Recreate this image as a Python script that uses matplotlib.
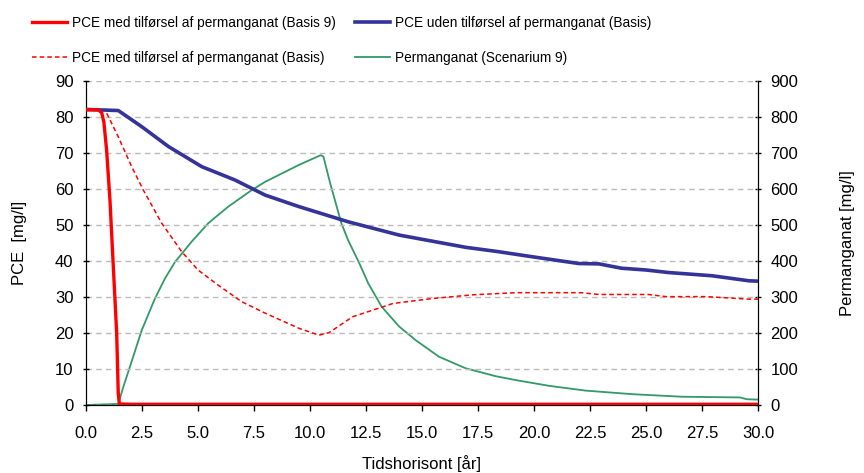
import matplotlib
matplotlib.use("Agg")
import matplotlib.pyplot as plt

plt.rcParams['font.family'] = ['Liberation Sans', 'DejaVu Sans']

# PCE med tilførsel af permanganat (Basis 9)
red9_x = [0.0, 0.55, 0.7, 0.8, 0.92, 1.07, 1.22, 1.37, 1.44, 1.49, 2.0, 30.0]
red9_y = [82, 82, 81.2, 78.5, 70.8, 56.9, 38.4, 19.9, 3.2, 0.3, 0.2, 0.2]

# PCE med tilførsel af permanganat (Basis)
redb_x = [0.0, 0.85, 1.44, 2.04, 2.56, 3.38, 4.27, 5.0, 5.9, 6.95, 8.0, 9.51, 10.4,
          10.85, 11.9, 13.7, 15.5, 17.25, 19.2, 22.1, 22.9, 25.1, 25.9, 27.7, 29.6, 30.0]
redb_y = [82, 82, 74.5, 66.2, 59.7, 50.5, 42.6, 37.5, 33.3, 28.7, 25.5, 21.3, 19.4,
          20.1, 24.5, 28.2, 29.6, 30.6, 31.2, 31.2, 30.7, 30.7, 30.1, 30.1, 29.4, 29.4]

# PCE uden tilførsel af permanganat (Basis)
blue_x = [0.0, 1.44, 2.49, 3.68, 5.17, 6.65, 8.0, 9.51, 11.7, 13.98, 16.95, 18.4,
          19.9, 22.0, 22.9, 23.9, 25.0, 26.0, 27.95, 29.6, 30.0]
blue_y = [82.1, 81.8, 77.3, 71.8, 66.2, 62.5, 58.3, 55.1, 50.9, 47.2, 43.8, 42.6,
          41.2, 39.3, 39.2, 38.0, 37.5, 36.8, 35.9, 34.5, 34.4]

# Permanganat (Scenarium 9)
green_x = [0.0, 1.44, 1.67, 1.96, 2.49, 3.08, 3.53, 3.97, 4.72, 5.46, 6.35, 7.4, 8.0,
           9.51, 10.48, 10.6, 10.9, 11.4, 11.7, 12.2, 12.6, 13.2, 13.98, 14.72, 15.76,
           16.95, 18.29, 19.2, 20.7, 22.3, 24.4, 26.6, 29.2, 29.5, 30.0]
green_y = [0, 3, 51, 106, 208, 296, 352, 397, 454, 505, 551, 597, 620,
           667, 694, 690, 616, 505, 458, 394, 338, 273, 218, 180, 134,
           102, 80, 69, 53, 40, 30, 23, 21, 16, 15]

xticks = [0.0, 2.5, 5.0, 7.5, 10.0, 12.5, 15.0, 17.5, 20.0, 22.5, 25.0, 27.5, 30.0]

fig = plt.figure(figsize=(8.64, 4.73), dpi=100)
ax = fig.add_axes([86/864, 1-405/473, (758-86)/864, (405-81)/473])
ax2 = ax.twinx()

l1, = ax.plot(red9_x, red9_y, color='#FF0000', lw=2.4, label='PCE med tilførsel af permanganat (Basis 9)', zorder=5)
l2, = ax.plot(redb_x, redb_y, color='#FF0000', lw=1.1, ls=(0, (3, 2)), label='PCE med tilførsel af permanganat (Basis)', zorder=4)
l3, = ax.plot(blue_x, blue_y, color='#333399', lw=2.6, label='PCE uden tilførsel af permanganat (Basis)', zorder=4)
l4, = ax2.plot(green_x, green_y, color='#339966', lw=1.3, label='Permanganat (Scenarium 9)')

ax.set_zorder(ax2.get_zorder() + 1)
ax.patch.set_visible(False)

ax.set_xlim(0, 30)
ax.set_ylim(0, 90)
ax2.set_ylim(0, 900)
ax.set_xticks(xticks)
ax.set_xticklabels([f"{v:.1f}" for v in xticks])
ax.set_yticks(range(0, 91, 10))
ax2.set_yticks(range(0, 901, 100))
ax.yaxis.grid(True, color='#BBBBBB', ls=(0, (4, 3)), lw=1.0)
for a in (ax, ax2):
    a.spines['top'].set_visible(False)
    a.tick_params(labelsize=12, length=4, width=1, direction='inout', colors='black')
ax.tick_params(axis='x', direction='out', pad=11)
ax.tick_params(axis='y', pad=7)
ax2.tick_params(axis='y', pad=7)

ax.set_xlabel('Tidshorisont [år]', fontsize=12, labelpad=10)
ax.set_ylabel('PCE  [mg/l]', fontsize=12, labelpad=20)
ax2.set_ylabel('Permanganat [mg/l]', fontsize=12, labelpad=30)

leg_kw = dict(loc='upper left', frameon=False, fontsize=9.8, handlelength=2.55,
              labelspacing=1.55, handletextpad=0.4, borderpad=0, borderaxespad=0)
fig.legend(handles=[l1, l2], bbox_to_anchor=(32/864, 1-16/473), **leg_kw)
fig.legend(handles=[l3, l4], bbox_to_anchor=(355/864, 1-16/473), **leg_kw)

fig.savefig('out.png', dpi=100)
